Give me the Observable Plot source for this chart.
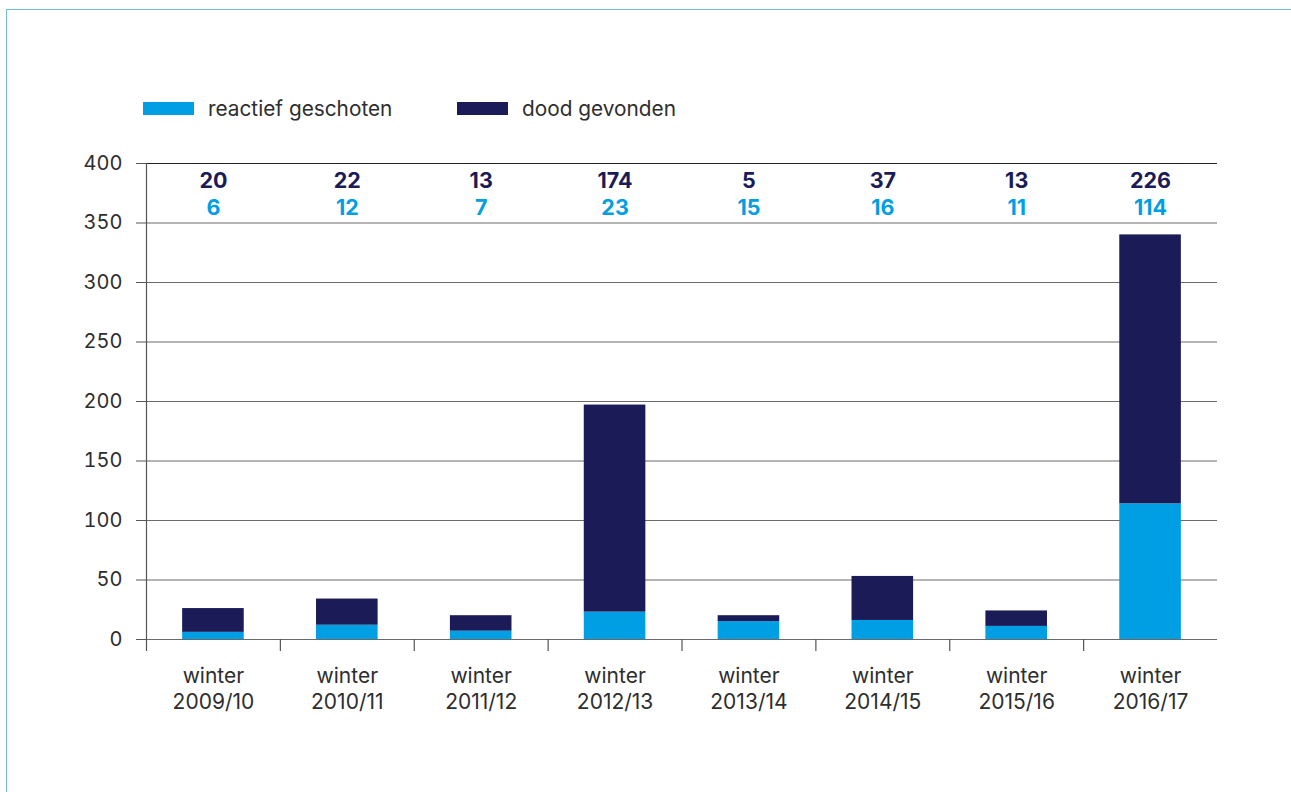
<!DOCTYPE html>
<html>
<head>
<meta charset="utf-8">
<script src="https://cdn.jsdelivr.net/npm/d3@7"></script>
<script src="https://cdn.jsdelivr.net/npm/@observablehq/plot@0.6"></script>
<style>
  html, body { margin: 0; padding: 0; background: #fff; }
  #wrap { position: relative; width: 1291px; height: 792px; overflow: hidden; font-family: Inter, "Liberation Sans", sans-serif; }
  #frame { position: absolute; left: 6px; top: 9px; right: -10px; bottom: -10px; border-top: 1.5px solid #6fbbe6; border-left: 1.5px solid #6fbbe6; }
  #chart { position: absolute; left: 0; top: 0; }
  .lg { position: absolute; top: 96px; height: 24px; display: flex; align-items: center; font-size: 20.8px; color: #2e2e2e; }
  .sw { width: 51px; height: 13px; margin-right: 14px; }
</style>
</head>
<body>
<div id="wrap">
  <div id="frame"></div>
  <div id="chart"></div>
  <div id="legend"></div>
</div>
<script>
const categories = ["2009/10", "2010/11", "2011/12", "2012/13", "2013/14", "2014/15", "2015/16", "2016/17"];
const reactief = [6, 12, 7, 23, 15, 16, 11, 114];
const dood = [20, 22, 13, 174, 5, 37, 13, 226];
const seriesNames = ["reactief geschoten", "dood gevonden"];
const seriesColors = ["#009fe3", "#1b1c57"];
const yTicks = [0, 50, 100, 150, 200, 250, 300, 350, 400];
const categoryPrefix = "winter";

const data = [];
categories.forEach((c, i) => {
  data.push({cat: c, series: seriesNames[0], value: reactief[i]});
  data.push({cat: c, series: seriesNames[1], value: dood[i]});
});

const W = 1291, H = 792;
const mL = 146, mR = 74, mT = 163, mB = 153;
const step = (W - mL - mR) / categories.length;
const yMax = yTicks[yTicks.length - 1];

// legend
const legend = document.getElementById("legend");
const legendX = [143, 457];
seriesNames.forEach((s, i) => {
  const d = document.createElement("div");
  d.className = "lg";
  d.style.left = legendX[i] + "px";
  d.innerHTML = `<div class="sw" style="background:${seriesColors[i]}"></div><span>${s}</span>`;
  legend.appendChild(d);
});

const chart = Plot.plot({
  width: W,
  height: H,
  marginLeft: mL,
  marginRight: mR,
  marginTop: mT,
  marginBottom: mB,
  style: {fontFamily: "Inter, 'Liberation Sans', sans-serif", fontSize: "19px", color: "#2e2e2e", background: "transparent"},
  x: {type: "band", domain: categories, paddingInner: 0.54, paddingOuter: 0.27, round: false, axis: null},
  y: {domain: [0, yMax], axis: null},
  color: {domain: seriesNames, range: seriesColors},
  marks: [
    Plot.gridY(yTicks, {stroke: "#6a6a6a", strokeOpacity: 1, strokeWidth: 1.2}),
    Plot.ruleY([yMax], {stroke: "#222", strokeWidth: 1.2}),
    Plot.axisY({ticks: yTicks, label: null, tickSize: 10, tickPadding: 14, stroke: "#555", fill: "#2e2e2e", fontSize: 20, tickFormat: d => String(d)}),
    Plot.barY(data, Plot.stackY({x: "cat", y: "value", fill: "series"})),
    Plot.ruleX([categories[0]], {x: d => d, y1: yMax, y2: 0, insetBottom: -12, dx: -step / 2, stroke: "#555", strokeWidth: 1.2}),
    Plot.ruleX(categories.slice(1), {x: d => d, y1: 0, y2: 0, insetBottom: -12, dx: -step / 2, stroke: "#555", strokeWidth: 1.2}),
    Plot.axisX({ticks: categories, label: null, tickSize: 0, tickPadding: 25, lineHeight: 1.25, fontSize: 21, fill: "#2e2e2e", tickFormat: d => categoryPrefix + "\n" + d}),
    Plot.text(categories, {x: d => d, text: (d, i) => String(dood[i]), frameAnchor: "top", lineAnchor: "middle", dy: 18, fill: seriesColors[1], fontWeight: 700, fontSize: 21.5}),
    Plot.text(categories, {x: d => d, text: (d, i) => String(reactief[i]), frameAnchor: "top", lineAnchor: "middle", dy: 45, fill: seriesColors[0], fontWeight: 700, fontSize: 21.5})
  ]
});
document.getElementById("chart").appendChild(chart);
</script>
</body>
</html>
